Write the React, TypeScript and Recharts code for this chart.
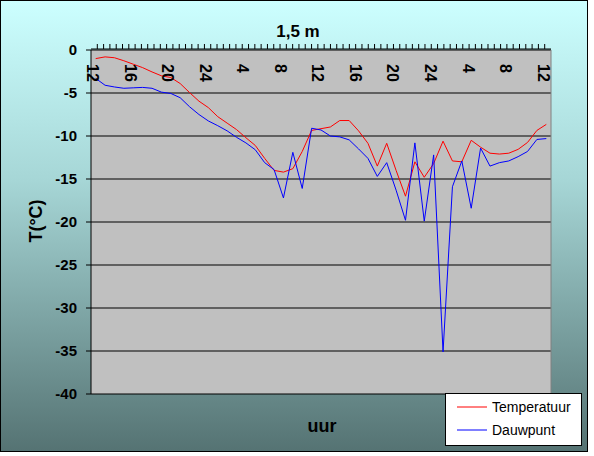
import React from "react";
import {
  LineChart,
  Line,
  XAxis,
  YAxis,
  CartesianGrid,
  Legend,
  ReferenceLine,
} from "recharts";

/* =======================
   Data (hourly, 48 h)
======================= */
const temperatuur = [
  -1.0, -0.8, -0.9, -1.25, -1.65, -2.05, -2.55, -3.0, -3.2, -3.9,
  -4.95, -5.95, -6.7, -7.75, -8.5, -9.25, -10.2, -11.1, -12.6, -14.0,
  -14.2, -13.8, -11.8, -9.35, -9.15, -8.95, -8.2, -8.2, -9.4, -10.85,
  -13.5, -10.85, -14.0, -17.0, -13.0, -14.8, -13.2, -10.6, -12.9, -13.0,
  -10.5, -11.3, -12.0, -12.1, -12.0, -11.55, -10.75, -9.35, -8.65,
];

const dauwpunt = [
  -3.3, -4.1, -4.3, -4.45, -4.4, -4.35, -4.45, -4.9, -5.05, -5.55,
  -6.6, -7.5, -8.25, -8.8, -9.4, -10.15, -10.8, -11.6, -13.1, -13.9,
  -17.2, -11.9, -16.1, -9.1, -9.3, -10.0, -10.1, -10.45, -11.5, -12.6,
  -14.7, -13.1, -16.3, -19.8, -10.8, -19.9, -12.2, -35.1, -15.9, -12.9,
  -18.4, -11.4, -13.5, -13.1, -12.9, -12.4, -11.8, -10.4, -10.3,
];

const uurTicks = [0, 4, 8, 12, 16, 20, 24, 28, 32, 36, 40, 44, 48];
const uurLabels = ["12", "16", "20", "24", "4", "8", "12", "16", "20", "24", "4", "8", "12"];
const yTicks = [0, -5, -10, -15, -20, -25, -30, -35, -40];

const FONT = "Arial, 'Liberation Sans', sans-serif";

const rows = temperatuur.map((t, i) => ({
  uur: i,
  temperatuur: t,
  dauwpunt: dauwpunt[i],
}));

// small tick marks on the top axis (73 steps across the 49 hour slots)
const minorTicks = Array.from({ length: 72 }, (_, j) => -0.5 + ((j + 1) * 49) / 73);

/* =======================
   Bits
======================= */
const HourTick = (props: any) => {
  const { x, index } = props;
  return (
    <text
      x={0}
      y={0}
      transform={`translate(${x - 3}, 63) rotate(90)`}
      dy="0.35em"
      fontSize={16}
      fontWeight="bold"
      fontFamily={FONT}
      fill="#000"
    >
      {uurLabels[index]}
    </text>
  );
};

const NoLabel = () => <g />;

const LegendBox = () => (
  <div
    style={{
      position: "relative",
      width: 137,
      height: 53,
      boxSizing: "border-box",
      border: "1px solid #000",
      background: "#fff",
      fontFamily: FONT,
      fontSize: 14,
      color: "#000",
    }}
  >
    {[
      { name: "Temperatuur", color: "#FF0000", top: 5 },
      { name: "Dauwpunt", color: "#0000FF", top: 28 },
    ].map((item) => (
      <div
        key={item.name}
        style={{
          position: "absolute",
          left: 11,
          top: item.top,
          height: 16,
          display: "flex",
          alignItems: "center",
        }}
      >
        <svg width={30} height={4} style={{ display: "block" }}>
          <line x1={0} y1={2} x2={30} y2={2} stroke={item.color} strokeWidth={1} />
        </svg>
        <span style={{ marginLeft: 5, lineHeight: "16px" }}>{item.name}</span>
      </div>
    ))}
  </div>
);

/* =======================
   Chart
======================= */
export default function App() {
  return (
    <div
      style={{
        position: "absolute",
        left: 0,
        top: 0,
        width: 588,
        height: 452,
        boxSizing: "border-box",
        border: "1px solid #000",
        background: "linear-gradient(to bottom, #CCFFFF 0%, #A6D6D6 40%, #557373 100%)",
      }}
    >
      <LineChart
        width={586}
        height={450}
        data={rows}
        margin={{ top: 43, right: 36, bottom: 57, left: 30 }}
      >
        <CartesianGrid vertical={false} stroke="#000" strokeOpacity={1} fill="#C0C0C0" fillOpacity={1} />

        <YAxis
          type="number"
          domain={[-40, 0]}
          ticks={yTicks}
          interval={0}
          width={60}
          tickSize={5}
          tickMargin={9}
          axisLine={{ stroke: "#000" }}
          tickLine={{ stroke: "#000" }}
          tick={{ fill: "#000", fontSize: 15, fontWeight: "bold", fontFamily: FONT }}
          label={{
            content: () => (
              <text
                x={35}
                y={220}
                transform="rotate(-90 35 220)"
                textAnchor="middle"
                dominantBaseline="central"
                fontSize={18}
                fontWeight="bold"
                fontFamily={FONT}
                fill="#000"
              >
                T(°C)
              </text>
            ),
          }}
        />

        <XAxis
          xAxisId="minor"
          dataKey="uur"
          type="number"
          orientation="top"
          domain={[-0.5, 48.5]}
          ticks={minorTicks}
          interval={0}
          height={5}
          tickSize={5}
          tick={<NoLabel />}
          axisLine={{ stroke: "#000" }}
          tickLine={{ stroke: "#000" }}
          label={{
            content: () => (
              <text
                x={297}
                y={30}
                textAnchor="middle"
                dominantBaseline="central"
                fontSize={17}
                fontWeight="bold"
                fontFamily={FONT}
                fill="#000"
              >
                1,5 m
              </text>
            ),
          }}
        />

        <XAxis
          xAxisId="labels"
          dataKey="uur"
          type="number"
          orientation="top"
          domain={[-0.5, 48.5]}
          ticks={uurTicks}
          interval={0}
          height={1}
          axisLine={false}
          tickLine={false}
          tick={<HourTick />}
          label={{
            content: () => (
              <text
                x={321}
                y={425}
                textAnchor="middle"
                dominantBaseline="central"
                fontSize={18}
                fontWeight="bold"
                fontFamily={FONT}
                fill="#000"
              >
                uur
              </text>
            ),
          }}
        />

        <ReferenceLine xAxisId="minor" x={48.5} stroke="#808080" strokeWidth={1} />

        <Line
          xAxisId="minor"
          type="linear"
          dataKey="temperatuur"
          name="Temperatuur"
          stroke="#FF0000"
          strokeWidth={1}
          dot={false}
          activeDot={false}
          isAnimationActive={false}
        />
        <Line
          xAxisId="minor"
          type="linear"
          dataKey="dauwpunt"
          name="Dauwpunt"
          stroke="#0000FF"
          strokeWidth={1}
          dot={false}
          activeDot={false}
          isAnimationActive={false}
        />

        <Legend
          layout="vertical"
          align="center"
          verticalAlign="middle"
          wrapperStyle={{ position: "absolute", left: 444, top: 392, width: 137, height: 53 }}
          content={() => <LegendBox />}
        />
      </LineChart>
    </div>
  );
}
